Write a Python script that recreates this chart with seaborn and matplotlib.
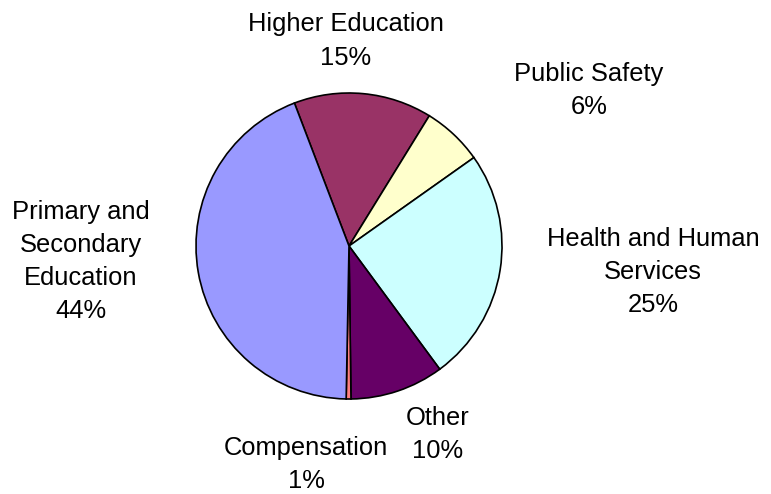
import matplotlib
matplotlib.use("Agg")
import matplotlib.pyplot as plt
import seaborn as sns

# ---- data (clockwise from the top-left boundary) ----
categories = ["Higher Education", "Public Safety", "Health and Human\nServices",
              "Other", "Compensation", "Primary and\nSecondary\nEducation"]
shares = [14.6, 6.4, 24.7, 9.9, 0.5, 43.9]
pct_labels = ["15%", "6%", "25%", "10%", "1%", "44%"]
slice_colors = ["#993366", "#FFFFCC", "#CCFFFF", "#660066", "#FF8080", "#9999FF"]

sns.set_theme(style="white")
plt.rcParams["font.family"] = ["Liberation Sans", "DejaVu Sans"]

W, H = 771, 494
fig = plt.figure(figsize=(W / 100, H / 100), dpi=100)
ax = fig.add_axes([0, 0, 1, 1])

palette = sns.color_palette(slice_colors)
ax.pie(shares, colors=palette, startangle=110.9, counterclock=False,
       center=(349, H - 246), radius=153,
       wedgeprops=dict(edgecolor="black", linewidth=1.2))

# label anchor positions in pixels (x centre, y top)
label_pos = [(346, 12.5), (589, 62), (653, 227), (438, 406), (306, 436), (81, 200)]
for cat, pct, (x, y) in zip(categories, pct_labels, label_pos):
    ax.text(x, H - y, f"{cat}\n{pct}", ha="center", va="top",
            multialignment="center", fontsize=18.4, linespacing=1.48,
            color="black")

ax.set_xlim(0, W)
ax.set_ylim(0, H)
ax.set_aspect("equal")
ax.axis("off")
fig.savefig("out.png", dpi=100, facecolor="white")
